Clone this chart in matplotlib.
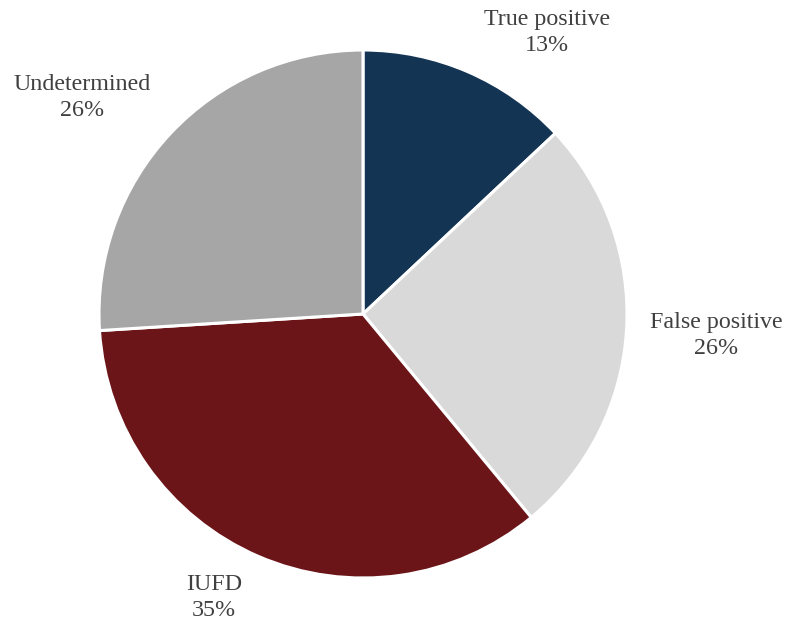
import matplotlib.pyplot as plt

categories = ["True positive", "False positive", "IUFD", "Undetermined"]
shares = [13, 26, 35, 26]
colors = ["#133453", "#d9d9d9", "#6b1519", "#a6a6a6"]

# where each category label sits (pie radius = 1)
label_xy = [(0.697, 1.066), (1.337, -0.082), (-0.564, -1.074), (-1.064, 0.820)]

plt.rcParams["font.family"] = ["Liberation Serif", "DejaVu Serif"]

fig = plt.figure(figsize=(7.89, 6.29), dpi=100)
ax = fig.add_axes([0, 0, 1, 1])

ax.pie(shares, colors=colors, startangle=90, counterclock=False,
       radius=1.0, wedgeprops=dict(edgecolor="white", linewidth=2.2))

for name, val, (x, y) in zip(categories, shares, label_xy):
    ax.text(x, y, f"{name}\n{val}%", ha="center", va="center",
            fontsize=17.3, color="#404040", linespacing=1.32)

ax.set_xlim(-363 / 264, (789 - 363) / 264)
ax.set_ylim(-(629 - 314) / 264, 314 / 264)
ax.set_aspect("equal")
ax.axis("off")

fig.savefig("out.png", dpi=100)
